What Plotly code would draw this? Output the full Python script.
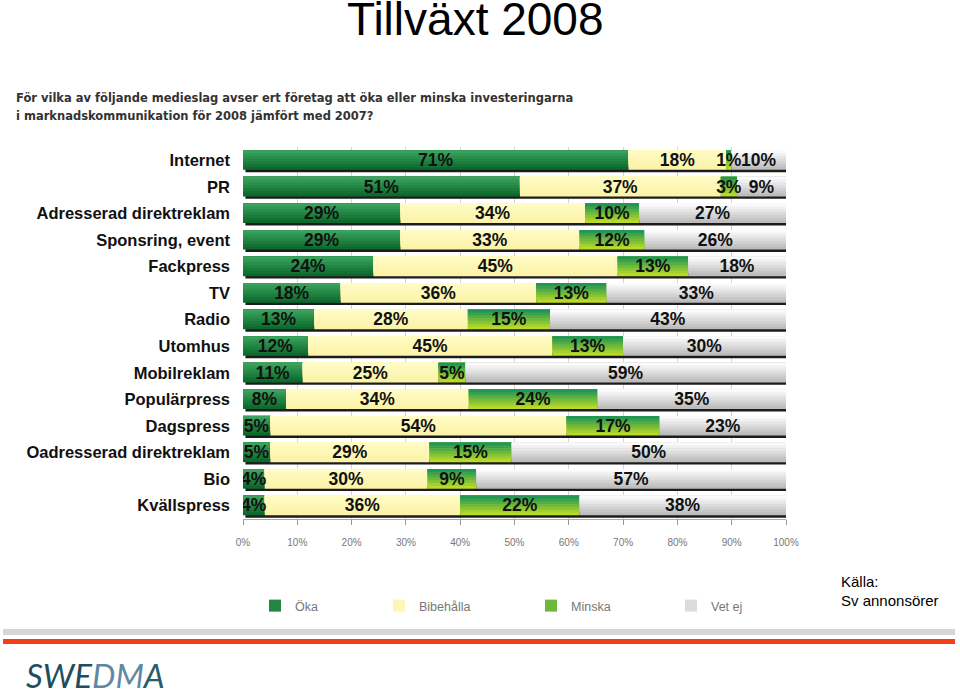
import numpy as np
import plotly.graph_objects as go

categories = ["Internet", "PR", "Adresserad direktreklam", "Sponsring, event", "Fackpress", "TV",
              "Radio", "Utomhus", "Mobilreklam", "Populärpress", "Dagspress",
              "Oadresserad direktreklam", "Bio", "Kvällspress"]
oka = [71, 51, 29, 29, 24, 18, 13, 12, 11, 8, 5, 5, 4, 4]
bibehalla = [18, 37, 34, 33, 45, 36, 28, 45, 25, 34, 54, 29, 30, 36]
minska = [1, 3, 10, 12, 13, 13, 15, 13, 5, 24, 17, 15, 9, 22]
vet_ej = [10, 9, 27, 26, 18, 33, 43, 30, 59, 35, 23, 50, 57, 38]
series_names = ["Öka", "Bibehålla", "Minska", "Vet ej"]
x_ticks = [0, 10, 20, 30, 40, 50, 60, 70, 80, 90, 100]

# gradient colours (top, bottom)
grad = {
    "Öka": ("#3aa25c", "#0c6a2c"),
    "Bibehålla": ("#fffbc4", "#fbf3a8"),
    "Minska": ("#239653", "#b9da26"),
    "Vet ej": ("#fbfbfb", "#bcbcbc"),
}

W, H = 960, 694
ML, MR, MT, MB = 243, 174, 147, 175
PW, PH = W - ML - MR, H - MT - MB


def px(x):
    return (x - ML) / PW


def py(y):
    return (H - MB - y) / PH


def mix(c1, c2, t):
    a = np.array([int(c1[i:i + 2], 16) for i in (1, 3, 5)])
    b = np.array([int(c2[i:i + 2], 16) for i in (1, 3, 5)])
    c = np.round(a + (b - a) * t).astype(int)
    return "#%02x%02x%02x" % tuple(c)


data = np.array([oka, bibehalla, minska, vet_ej], dtype=float)
totals = data.sum(axis=0)
norm = data / totals * 100
bases = np.vstack([np.zeros(len(categories)), np.cumsum(norm, axis=0)[:-1]])
rows = list(range(len(categories)))

BAR_OFF, BAR_W = -0.38, 0.74
N = 7
legend_ids = ["legend", "legend2", "legend3", "legend4"]
legend_marker_px = [275, 399, 551, 691]

fig = go.Figure()

# drop shadow behind each bar
fig.add_trace(go.Bar(
    y=rows, x=np.full(len(rows), 100.0), base=0.45, orientation="h",
    offset=BAR_OFF + 0.09, width=BAR_W, marker=dict(color="#1c1c1c", line=dict(width=0)),
    showlegend=False, hoverinfo="skip"))

for s, name in enumerate(series_names):
    top, bot = grad[name]
    for j in range(N):
        frac = (N - j) / N
        col = mix(top, bot, (N - 1 - j) / (N - 1))
        fig.add_trace(go.Bar(
            y=rows, x=norm[s], base=bases[s], orientation="h",
            offset=BAR_OFF, width=BAR_W * frac,
            marker=dict(color=col, line=dict(width=0)),
            name=name, legendgroup=name, showlegend=(j == N // 2),
            legend=legend_ids[s], hoverinfo="skip"))

for s, name in enumerate(series_names):
    fig.add_trace(go.Bar(
        y=rows, x=norm[s], base=bases[s], orientation="h",
        offset=BAR_OFF, width=BAR_W,
        marker=dict(color="rgba(0,0,0,0)", line=dict(width=0)),
        text=[f"{int(v)}%" for v in data[s]], textposition="inside",
        insidetextanchor="middle", textangle=0, constraintext="none",
        textfont=dict(family="Liberation Sans, Arial", size=17.5,
                      color="#111111", weight="bold"),
        showlegend=False, hoverinfo="skip", legendgroup=name, legend=legend_ids[s]))

leg_common = dict(orientation="h", y=py(606), xanchor="left", yanchor="middle",
                  font=dict(family="Liberation Sans, Arial", size=12.5, color="#777777"),
                  bgcolor="rgba(0,0,0,0)")
legends = {}
for lid, mx in zip(legend_ids, legend_marker_px):
    legends[lid] = dict(leg_common, x=px(mx - 20))

fig.update_layout(
    width=W, height=H, barmode="overlay",
    margin=dict(l=ML, r=MR, t=MT, b=MB),
    paper_bgcolor="white", plot_bgcolor="white",
    showlegend=True,
    xaxis=dict(range=[0, 100], tickvals=x_ticks, ticktext=[f"{t}%" for t in x_ticks],
               tickfont=dict(family="Liberation Sans, Arial", size=10, color="#777777"),
               ticks="outside", ticklen=5, tickcolor="#999999", showline=True,
               linecolor="#aaaaaa", showgrid=True, gridcolor="#d4d4d4", zeroline=False,
               ticklabelstandoff=9, fixedrange=True),
    yaxis=dict(range=[13.5, -0.5], tickvals=rows, ticktext=categories,
               tickfont=dict(family="Liberation Sans, Arial", size=16.5, color="#111111",
                             weight="bold"),
               showgrid=False, zeroline=False, ticklabelstandoff=12, fixedrange=True),
    **legends,
)

ann = [
    dict(text="Tillväxt 2008", x=px(475), y=py(19), xanchor="center", yanchor="middle",
         font=dict(family="Liberation Sans, Arial", size=46, color="#000000")),
    dict(text="För vilka av följande medieslag avser ert företag att öka eller minska investeringarna",
         x=px(14), y=py(98), xanchor="left", yanchor="middle",
         font=dict(family="DejaVu Sans", size=11.5, color="#333333", weight="bold")),
    dict(text="i marknadskommunikation för 2008 jämfört med 2007?",
         x=px(14), y=py(116), xanchor="left", yanchor="middle",
         font=dict(family="DejaVu Sans", size=11.5, color="#333333", weight="bold")),
    dict(text="Källa:", x=px(839), y=py(581), xanchor="left", yanchor="middle",
         font=dict(family="Liberation Sans, Arial", size=15, color="#000000")),
    dict(text="Sv annonsörer", x=px(839), y=py(600), xanchor="left", yanchor="middle",
         font=dict(family="Liberation Sans, Arial", size=15, color="#000000")),
    dict(text="<span style='color:#1d4e5e'>SWE</span><span style='color:#5f88a2'>DM</span>"
              "<span style='color:#2a5c6c'>A</span>",
         x=px(24), y=py(675), xanchor="left", yanchor="middle",
         font=dict(family="Lato, Open Sans", size=33, style="italic")),
]
for a in ann:
    a.update(xref="paper", yref="paper", showarrow=False)
fig.update_layout(annotations=ann)

fig.update_layout(shapes=[
    dict(type="line", xref="paper", yref="paper", x0=px(3), x1=px(955), y0=py(632), y1=py(632),
         line=dict(color="#d6d6d6", width=6)),
    dict(type="line", xref="paper", yref="paper", x0=px(3), x1=px(955), y0=py(641.5), y1=py(641.5),
         line=dict(color="#f2401a", width=5)),
])

fig.write_html("out.html")
